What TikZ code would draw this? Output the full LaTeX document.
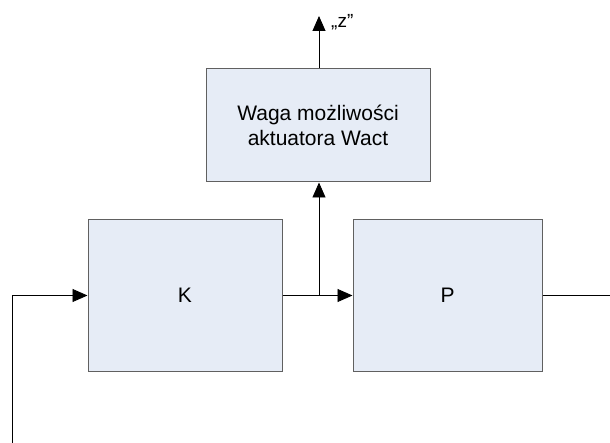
\documentclass[tikz,border=0pt]{standalone}
\usepackage{fontspec}
\setmainfont{Liberation Sans}
\usetikzlibrary{arrows.meta}
\definecolor{boxfill}{HTML}{E6ECF6}
\definecolor{boxdraw}{HTML}{606060}
\begin{document}
\begin{tikzpicture}[x=1pt,y=-1pt,
  blk/.style={draw=boxdraw,line width=1pt,fill=boxfill,minimum width=#1,inner sep=0pt,font=\fontsize{21}{25}\selectfont,align=center},
  conn/.style={line width=0.9pt,-{Triangle[length=15pt,width=13pt]}},
  plain/.style={line width=0.9pt}]
\useasboundingbox (0,0) rectangle (610,443);
\node[blk=194pt,minimum height=151pt] (K) at (185,295.5) {K};
\node[blk=189pt,minimum height=151pt] (P) at (447.5,295.5) {P};
\node[blk=224pt,minimum height=113pt] (W) at (318,125.5) {Waga możliwości\\aktuatora Wact};
\coordinate (J) at (319,295.5);
\coordinate (Lb) at (12,443);
\coordinate (Lt) at (12,295.5);
\coordinate (Rend) at (610,295.5);
\coordinate (Ztip) at (319,16);
\node[font=\fontsize{19}{22}\selectfont,anchor=west,inner sep=0pt] (zl) at (331,22) {„z”};
\draw[conn] (Lb) -- (Lt) -- (K.west);
\draw[conn] (K.east) -- (P.west);
\draw[conn] (J) -- (J |- W.south);
\draw[conn] (W.north -| Ztip) -- (Ztip);
\draw[plain] (P.east) -- (Rend);
\end{tikzpicture}
\end{document}
